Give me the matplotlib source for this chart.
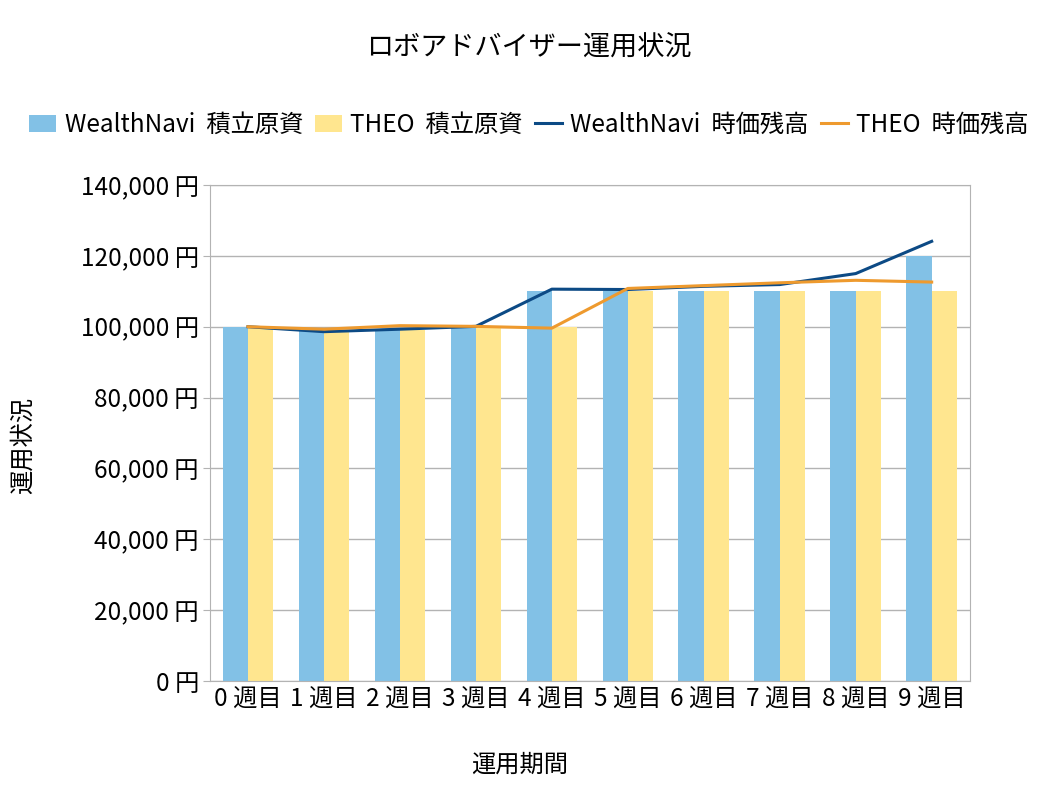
import numpy as np
import matplotlib
matplotlib.use('Agg')
import matplotlib.pyplot as plt

plt.rcParams['font.family'] = ['Noto Sans CJK JP', 'DejaVu Sans']

weeks = ['0 週目', '1 週目', '2 週目', '3 週目', '4 週目',
         '5 週目', '6 週目', '7 週目', '8 週目', '9 週目']
wn_principal = [100000, 99000, 99000, 99500, 110000, 110000, 110000, 110000, 110000, 120000]
theo_principal = [100000, 98500, 99000, 100000, 100000, 110000, 110000, 110000, 110000, 110000]
wn_value = [100000, 98600, 99300, 100100, 110600, 110500, 111400, 111900, 115000, 124100]
theo_value = [100000, 99300, 100300, 100100, 99600, 110800, 111600, 112400, 113100, 112600]

fig = plt.figure(figsize=(10.58, 7.94), dpi=100)
ax = fig.add_axes([0.1985, 0.1423, 0.718, 0.6247])

x = np.arange(len(weeks))
w = 0.333
b1 = ax.bar(x - w/2, wn_principal, w, color='#82C1E6', label='WealthNavi  積立原資', zorder=2)
b2 = ax.bar(x + w/2, theo_principal, w, color='#FFE68F', label='THEO  積立原資', zorder=2)
l1, = ax.plot(x, wn_value, color='#0C4A85', lw=2.2, label='WealthNavi  時価残高', zorder=3)
l2, = ax.plot(x, theo_value, color='#EE9A2E', lw=2.2, label='THEO  時価残高', zorder=3)

ax.set_xlim(-0.5, len(weeks) - 0.5)
ax.set_ylim(0, 140000)
ax.set_yticks(range(0, 140001, 20000))
ax.set_yticklabels([f'{v:,} 円' for v in range(0, 140001, 20000)], fontsize=17.5)
ax.set_xticks(x)
ax.set_xticklabels(weeks, fontsize=17.5)
ax.grid(axis='y', color='#b3b3b3', lw=1, zorder=0)
for s in ax.spines.values():
    s.set_color('#b3b3b3')
ax.tick_params(axis='y', length=5, color='#b3b3b3', pad=3)
ax.tick_params(axis='x', length=0, pad=4)

ax.set_xlabel('運用期間', fontsize=17.5, va='center')
ax.xaxis.set_label_coords(0.408, -0.169)
ax.set_ylabel('運用状況', fontsize=17.5, va='center')
ax.yaxis.set_label_coords(-0.247, 0.474)
fig.text(0.5, 0.9395, 'ロボアドバイザー運用状況', ha='center', va='center', fontsize=19.5)

fig.legend([b1, b2, l1, l2], [h.get_label() for h in [b1, b2, l1, l2]],
           loc='center', bbox_to_anchor=(0.5, 0.843), ncol=4, frameon=False,
           fontsize=17.5, handlelength=1.1, handletextpad=0.35, columnspacing=0.5)

fig.savefig('out.png', dpi=100)
